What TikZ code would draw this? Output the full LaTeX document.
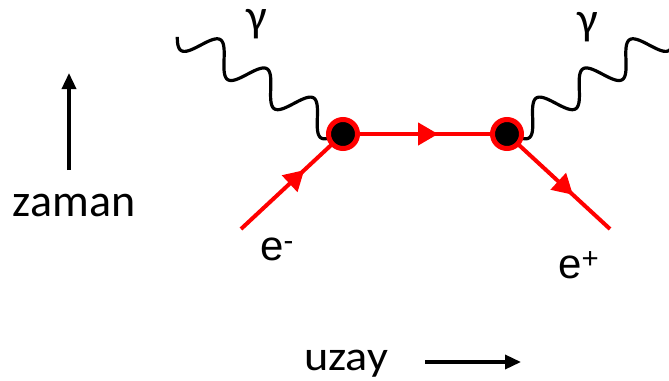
\documentclass[tikz,border=0pt]{standalone}
\usepackage{fontspec}
\setmainfont{Carlito}
\newfontfamily\arialfont{Liberation Sans}
\usetikzlibrary{arrows.meta,decorations.markings}
\tikzset{
  fermion/.style={draw=red, line width=4pt, postaction={decorate},
    decoration={markings, mark=at position #1 with {\arrow{Triangle[length=20pt,width=22pt]}}}},
  fermion/.default=0.6,
  photon/.style={draw=black, line width=3.2pt},
  vertex/.style={circle, draw=red, fill=black, line width=5pt, minimum size=29pt, inner sep=0pt},
  axisarrow/.style={draw=black, line width=3.5pt, -{Triangle[length=16pt,width=14pt]}},
  lbl/.style={font=\fontsize{46}{46}\selectfont, inner sep=0pt, anchor=base, text height=22pt},
  elbl/.style={font=\arialfont\fontsize{42}{42}\selectfont, inner sep=0pt, anchor=base west}
}
\begin{document}
\begin{tikzpicture}[x=1pt,y=-1pt]
\useasboundingbox (0,0) rectangle (669,380);
\coordinate (v1c) at (343,134);
\coordinate (v2c) at (507,134);
\coordinate (ein) at (241,229);
\coordinate (eout) at (610,229);
% photons
\draw[photon] plot[domain=-192:0, samples=200, smooth]
  ({343 + 0.848*\x + 15*0.530*sin(360*\x/55+18)}, {134 + 0.530*\x - 15*0.848*sin(360*\x/55+18)});
\draw[photon] plot[domain=-192:0, samples=200, smooth]
  ({507 - 0.848*\x - 15*0.530*sin(360*\x/55+18)}, {134 + 0.530*\x - 15*0.848*sin(360*\x/55+18)});
% fermion lines
\draw[fermion=0.62] (ein) -- (v1c);
\draw[fermion=0.58] (v1c) -- (v2c);
\draw[fermion=0.64] (v2c) -- (eout);
\node[vertex] (v1) at (v1c) {};
\node[vertex] (v2) at (v2c) {};
% labels
\node[lbl] (g1) at (257,31) {γ};
\node[lbl] (g2) at (588,34) {γ};
\node[elbl] (em) at (260,260) {e\textsuperscript{-}};
\node[elbl] (ep) at (558,278) {e\textsuperscript{+}};
% axes
\node[lbl] (zaman) at (74,216) {zaman};
\coordinate (t0) at (69,170);
\coordinate (t1) at (69,73);
\draw[axisarrow] (t0) -- (t1);
\node[lbl, font=\fontsize{42}{42}\selectfont, text depth=7pt] (uzay) at (346,370) {\scalebox{1.1}[1]{uzay}};
\coordinate (s0) at (425,362);
\coordinate (s1) at (521,362);
\draw[axisarrow] (s0) -- (s1);
\end{tikzpicture}
\end{document}
